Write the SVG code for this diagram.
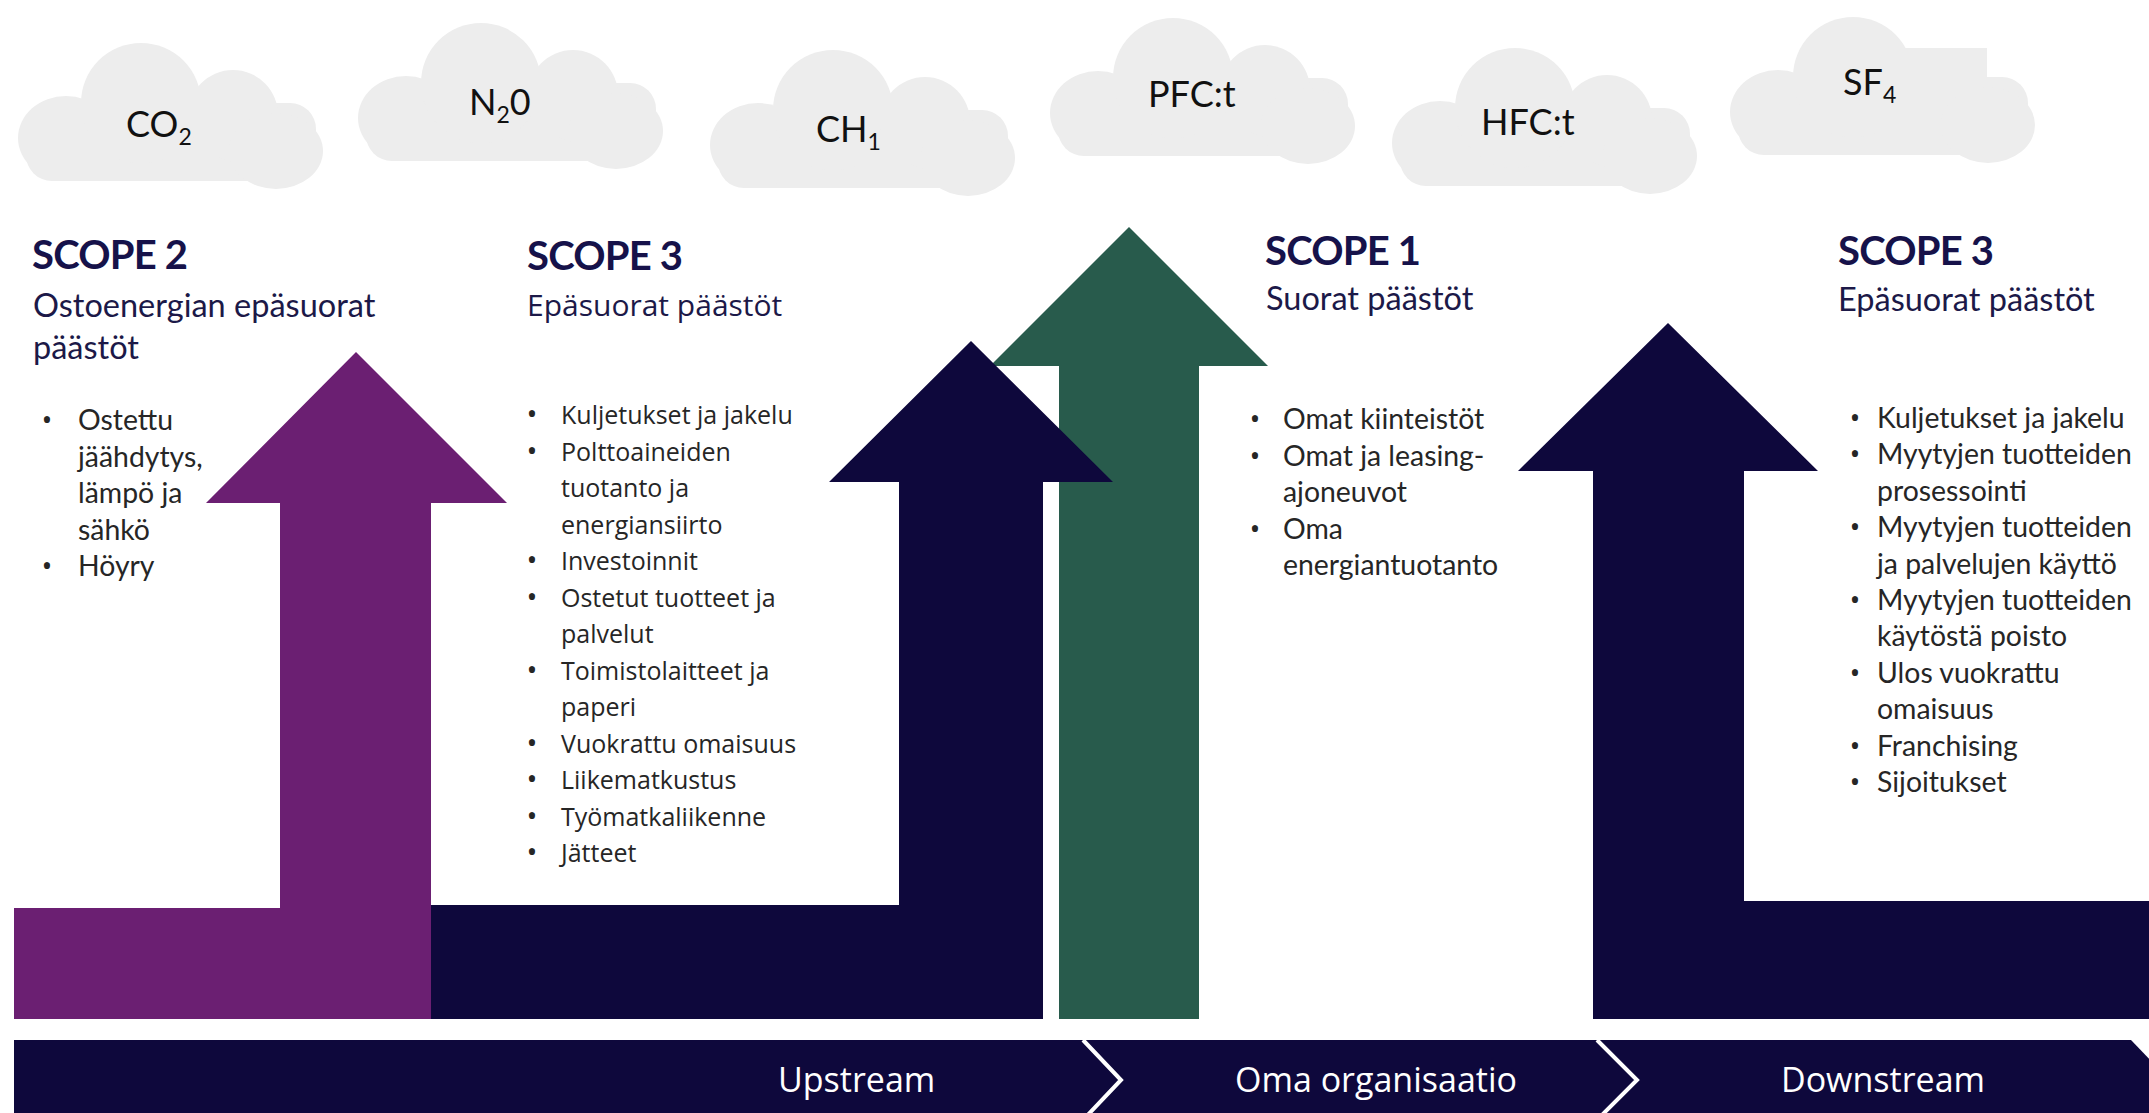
<svg xmlns="http://www.w3.org/2000/svg" xmlns:xlink="http://www.w3.org/1999/xlink" width="2149" height="1113" viewBox="0 0 2149 1113">
<defs>
<style>
.h{font-family:Lato,'Noto Sans',sans-serif;font-weight:700;font-size:40px;letter-spacing:-0.8px;fill:#16124a}
.sub{font-family:Lato,'Noto Sans',sans-serif;font-size:32.5px;fill:#1c1948}
.li{font-family:Lato,'Noto Sans',sans-serif;font-size:28.4px;fill:#262626}
.osub{font-family:'Open Sans','Noto Sans',sans-serif;font-size:30px;fill:#1c1948}
.oli{font-family:'Open Sans','Noto Sans',sans-serif;font-size:25px;fill:#262626}
.bar{font-family:'Open Sans','Noto Sans',sans-serif;font-size:34px;fill:#ffffff}
.ct{font-family:Lato,'Noto Sans',sans-serif;font-size:36px;fill:#111111}
.sb{font-size:23px}
.b{text-anchor:middle;font-family:'Open Sans','Noto Sans',sans-serif;font-size:29px;fill:#262626}
.cloud{fill:#ededed}
.purple{fill:#6b1f72}
.navy{fill:#0e083c}
.green{fill:#285b4c}
</style>
<symbol id="cloudShape" viewBox="0 0 305 138" width="305" height="138" overflow="visible">
<rect x="8" y="60" width="290" height="78" rx="26"/>
<ellipse cx="48" cy="95" rx="48" ry="42"/>
<ellipse cx="123" cy="60" rx="60" ry="60"/>
<ellipse cx="215" cy="72" rx="45" ry="45"/>
<ellipse cx="258" cy="108" rx="47" ry="38"/>
</symbol>
</defs>
<rect width="2149" height="1113" fill="#ffffff"/>

<g id="cloud-co2" class="cloud">
<use xlink:href="#cloudShape" x="18" y="43" width="305" height="138"/>
<text class="ct" x="126" y="137">CO<tspan class="sb" dy="8">2</tspan></text>
</g>
<g id="cloud-n2o" class="cloud">
<use xlink:href="#cloudShape" x="358" y="23" width="305" height="138"/>
<text class="ct" x="469" y="115">N<tspan class="sb" dy="8">2</tspan><tspan dy="-8">0</tspan></text>
</g>
<g id="cloud-ch1" class="cloud">
<use xlink:href="#cloudShape" x="710" y="50" width="305" height="138"/>
<text class="ct" x="816" y="142">CH<tspan class="sb" dy="8">1</tspan></text>
</g>
<g id="cloud-pfc" class="cloud">
<use xlink:href="#cloudShape" x="1050" y="18" width="305" height="138"/>
<text class="ct" x="1148" y="107">PFC:t</text>
</g>
<g id="cloud-hfc" class="cloud">
<use xlink:href="#cloudShape" x="1392" y="48" width="305" height="138"/>
<text class="ct" x="1481" y="135">HFC:t</text>
</g>
<g id="cloud-sf4" class="cloud">
<g transform="translate(1730,17)">
<rect x="8" y="60" width="290" height="78" rx="26"/>
<ellipse cx="48" cy="95" rx="48" ry="42"/>
<ellipse cx="123" cy="60" rx="60" ry="60"/>
<path d="M170 31 L257 31 L257 100 L170 100 Z"/>
<ellipse cx="258" cy="108" rx="47" ry="38"/>
</g>
<text class="ct" x="1843" y="95">SF<tspan class="sb" dy="8">4</tspan></text>
</g>

<g id="arrow-scope1">
<polygon class="green" points="1129,227 1268,366 1199,366 1199,1019 1059,1019 1059,366 990,366"/>
</g>
<g id="arrow-scope2">
<polygon class="purple" points="356,352 507,503 431,503 431,1019 14,1019 14,908 280,908 280,503 206,503"/>
</g>
<g id="arrow-scope3-up">
<polygon class="navy" points="971,341 1113,482 1043,482 1043,1019 431,1019 431,905 899,905 899,482 829,482"/>
</g>
<g id="arrow-scope3-down">
<polygon class="navy" points="1668,323 1818,471 1744,471 1744,901 2149,901 2149,1019 1593,1019 1593,471 1518,471"/>
</g>

<g id="scope2">
<text class="h" x="32" y="269">SCOPE 2</text>
<text class="sub" x="33" y="317">Ostoenergian epäsuorat</text>
<text class="sub" x="33" y="359">päästöt</text>
<text class="b" x="47" y="430">•</text>
<text class="li" x="78" y="430">Ostettu</text>
<text class="li" x="78" y="467">jäähdytys,</text>
<text class="li" x="78" y="503">lämpö ja</text>
<text class="li" x="78" y="540">sähkö</text>
<text class="b" x="47" y="576">•</text>
<text class="li" x="78" y="576">Höyry</text>
</g>

<g id="scope3-upstream">
<text class="h" x="527" y="270">SCOPE 3</text>
<text class="osub" x="527" y="316">Epäsuorat päästöt</text>
<text class="b" x="532" y="424">•</text>
<text class="oli" x="561" y="424">Kuljetukset ja jakelu</text>
<text class="b" x="532" y="460.5">•</text>
<text class="oli" x="561" y="460.5">Polttoaineiden</text>
<text class="oli" x="561" y="497">tuotanto ja</text>
<text class="oli" x="561" y="533.5">energiansiirto</text>
<text class="b" x="532" y="570">•</text>
<text class="oli" x="561" y="570">Investoinnit</text>
<text class="b" x="532" y="606.5">•</text>
<text class="oli" x="561" y="606.5">Ostetut tuotteet ja</text>
<text class="oli" x="561" y="643">palvelut</text>
<text class="b" x="532" y="679.5">•</text>
<text class="oli" x="561" y="679.5">Toimistolaitteet ja</text>
<text class="oli" x="561" y="716">paperi</text>
<text class="b" x="532" y="752.5">•</text>
<text class="oli" x="561" y="752.5">Vuokrattu omaisuus</text>
<text class="b" x="532" y="789">•</text>
<text class="oli" x="561" y="789">Liikematkustus</text>
<text class="b" x="532" y="825.5">•</text>
<text class="oli" x="561" y="825.5">Työmatkaliikenne</text>
<text class="b" x="532" y="862">•</text>
<text class="oli" x="561" y="862">Jätteet</text>
</g>

<g id="scope1">
<text class="h" x="1265" y="265">SCOPE 1</text>
<text class="sub" x="1266" y="310">Suorat päästöt</text>
<text class="b" x="1255" y="429">•</text>
<text class="li" x="1283" y="429">Omat kiinteistöt</text>
<text class="b" x="1255" y="465.5">•</text>
<text class="li" x="1283" y="465.5">Omat ja leasing-</text>
<text class="li" x="1283" y="502">ajoneuvot</text>
<text class="b" x="1255" y="538.5">•</text>
<text class="li" x="1283" y="538.5">Oma</text>
<text class="li" x="1283" y="575">energiantuotanto</text>
</g>

<g id="scope3-downstream">
<text class="h" x="1838" y="265">SCOPE 3</text>
<text class="sub" x="1838" y="311">Epäsuorat päästöt</text>
<text class="b" x="1855" y="428">•</text>
<text class="li" x="1877" y="428">Kuljetukset ja jakelu</text>
<text class="b" x="1855" y="464.4">•</text>
<text class="li" x="1877" y="464.4">Myytyjen tuotteiden</text>
<text class="li" x="1877" y="500.8">prosessointi</text>
<text class="b" x="1855" y="537.2">•</text>
<text class="li" x="1877" y="537.2">Myytyjen tuotteiden</text>
<text class="li" x="1877" y="573.6">ja palvelujen käyttö</text>
<text class="b" x="1855" y="610">•</text>
<text class="li" x="1877" y="610">Myytyjen tuotteiden</text>
<text class="li" x="1877" y="646.4">käytöstä poisto</text>
<text class="b" x="1855" y="682.8">•</text>
<text class="li" x="1877" y="682.8">Ulos vuokrattu</text>
<text class="li" x="1877" y="719.2">omaisuus</text>
<text class="b" x="1855" y="755.6">•</text>
<text class="li" x="1877" y="755.6">Franchising</text>
<text class="b" x="1855" y="792">•</text>
<text class="li" x="1877" y="792">Sijoitukset</text>
</g>

<g id="value-chain-bar">
<rect class="navy" x="14" y="1040" width="2136" height="80"/>
<polygon points="2131,1040 2152,1040 2152,1062" fill="#ffffff"/>
<polyline points="1083,1040 1121,1080 1083,1120" fill="none" stroke="#ffffff" stroke-width="4"/>
<polyline points="1597,1040 1637,1080 1597,1120" fill="none" stroke="#ffffff" stroke-width="4"/>
<text class="bar" x="778" y="1092">Upstream</text>
<text class="bar" x="1235" y="1092">Oma organisaatio</text>
<text class="bar" x="1781" y="1092">Downstream</text>
</g>
<g id="connectors"/>
</svg>
